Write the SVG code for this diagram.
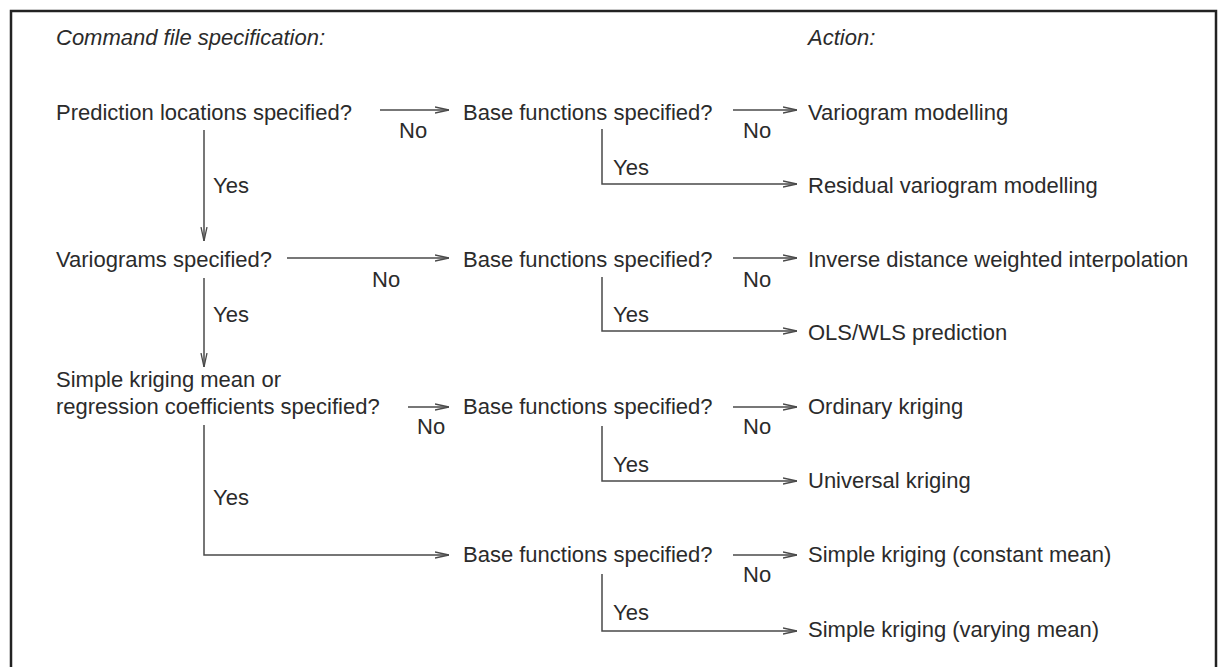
<svg xmlns="http://www.w3.org/2000/svg" width="1223" height="667" viewBox="0 0 1223 667">
<defs>
<style>
text{font-family:"Liberation Sans",Arial,sans-serif;font-size:22px;fill:#2b2b2b}
.it{font-style:italic}
.c{fill:none;stroke:#4a4a4a;stroke-width:1.5}
</style>
<marker id="ah" viewBox="0 0 14 8" refX="14" refY="4" markerWidth="14" markerHeight="8" markerUnits="userSpaceOnUse" orient="auto">
<path d="M0,1 L14,4 L0,7" fill="none" stroke="#4a4a4a" stroke-width="1.3"/>
</marker>
</defs>
<rect width="1223" height="667" fill="#fff"/>
<path d="M11,667 V11 H1216 V667" fill="none" stroke="#222" stroke-width="2.5"/>
<g id="headers">
<text class="it" x="56" y="45">Command file specification:</text>
<text class="it" x="808" y="45">Action:</text>
</g>
<g id="q1"><text x="56" y="120">Prediction locations specified?</text></g>
<g id="q2"><text x="56" y="267">Variograms specified?</text></g>
<g id="q3"><text x="56" y="387">Simple kriging mean or</text><text x="56" y="414">regression coefficients specified?</text></g>
<g id="b1"><text x="463" y="120">Base functions specified?</text></g>
<g id="b2"><text x="463" y="267">Base functions specified?</text></g>
<g id="b3"><text x="463" y="414">Base functions specified?</text></g>
<g id="b4"><text x="463" y="562">Base functions specified?</text></g>
<g id="a1"><text x="808" y="120">Variogram modelling</text></g>
<g id="a2"><text x="808" y="193">Residual variogram modelling</text></g>
<g id="a3"><text x="808" y="267">Inverse distance weighted interpolation</text></g>
<g id="a4"><text x="808" y="340">OLS/WLS prediction</text></g>
<g id="a5"><text x="808" y="414">Ordinary kriging</text></g>
<g id="a6"><text x="808" y="488">Universal kriging</text></g>
<g id="a7"><text x="808" y="562">Simple kriging (constant mean)</text></g>
<g id="a8"><text x="808" y="637">Simple kriging (varying mean)</text></g>
<g id="connectors">
<path class="c" marker-end="url(#ah)" d="M380,110 H449"/>
<path class="c" marker-end="url(#ah)" d="M733,110 H797"/>
<path class="c" marker-end="url(#ah)" d="M602,129 V184 H797"/>
<path class="c" marker-end="url(#ah)" d="M204,130 V241"/>
<path class="c" marker-end="url(#ah)" d="M287,258 H449"/>
<path class="c" marker-end="url(#ah)" d="M733,258 H797"/>
<path class="c" marker-end="url(#ah)" d="M602,277 V331 H797"/>
<path class="c" marker-end="url(#ah)" d="M204,278 V367"/>
<path class="c" marker-end="url(#ah)" d="M408,407 H449"/>
<path class="c" marker-end="url(#ah)" d="M733,407 H797"/>
<path class="c" marker-end="url(#ah)" d="M602,426 V481 H797"/>
<path class="c" marker-end="url(#ah)" d="M204,425 V555 H449"/>
<path class="c" marker-end="url(#ah)" d="M733,555 H797"/>
<path class="c" marker-end="url(#ah)" d="M602,574 V631 H797"/>
<text x="399" y="138">No</text>
<text x="743" y="138">No</text>
<text x="613" y="175">Yes</text>
<text x="213" y="193">Yes</text>
<text x="372" y="287">No</text>
<text x="743" y="287">No</text>
<text x="613" y="322">Yes</text>
<text x="213" y="322">Yes</text>
<text x="417" y="434">No</text>
<text x="743" y="434">No</text>
<text x="613" y="472">Yes</text>
<text x="213" y="505">Yes</text>
<text x="743" y="582">No</text>
<text x="613" y="620">Yes</text>
</g>
</svg>
